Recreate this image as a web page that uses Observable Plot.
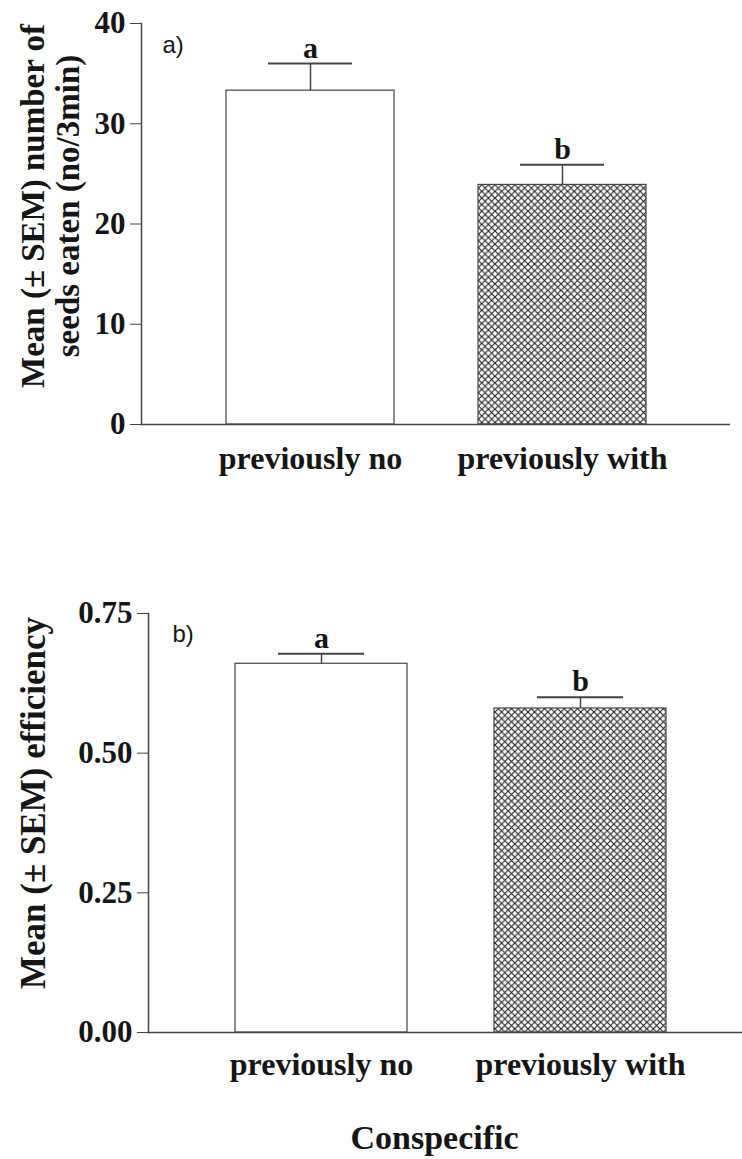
<!DOCTYPE html>
<html>
<head>
<meta charset="utf-8">
<script src="https://cdn.jsdelivr.net/npm/d3@7"></script>
<script src="https://cdn.jsdelivr.net/npm/@observablehq/plot@0.6"></script>
<style>
  html, body { margin: 0; padding: 0; background: #fff; }
  #chart { width: 742px; }
  #chart svg { display: block; }
</style>
</head>
<body>
<div id="chart"></div>
<script>
const categories = ["previously no", "previously with"];
const seedsMean = [33.3, 23.9];
const seedsSem = [2.7, 2.0];
const effMean = [0.66, 0.58];
const effSem = [0.018, 0.02];
const letters = ["a", "b"];
const seedsTicks = [0, 10, 20, 30, 40];
const effTicks = [0, 0.25, 0.5, 0.75];
const panelLabels = ["a)", "b)"];
const seedsTitle = "Mean (± SEM) number of\nseeds eaten (no/3min)";
const effTitle = "Mean (± SEM) efficiency";
const xTitle = "Conspecific";

const serif = "'Liberation Serif', 'Times New Roman', serif";
const sans = "'Liberation Sans', Arial, sans-serif";
const ink = "#151515";
const line = "#444";

function rows(means, sems) {
  return categories.map((c, i) => ({cat: c, mean: means[i], top: means[i] + sems[i], letter: letters[i], hatched: i === 1}));
}

function addHatch(svg, id) {
  const ns = "http://www.w3.org/2000/svg";
  const defs = document.createElementNS(ns, "defs");
  const pat = document.createElementNS(ns, "pattern");
  const s = 6.6;
  pat.setAttribute("id", id);
  pat.setAttribute("patternUnits", "userSpaceOnUse");
  pat.setAttribute("width", s);
  pat.setAttribute("height", s);
  const bg = document.createElementNS(ns, "rect");
  bg.setAttribute("width", s); bg.setAttribute("height", s); bg.setAttribute("fill", "#fff");
  pat.appendChild(bg);
  const p = document.createElementNS(ns, "path");
  p.setAttribute("d", `M0,0L${s},${s}M${s},0L0,${s}`);
  p.setAttribute("stroke", "#222");
  p.setAttribute("stroke-width", "1.15");
  pat.appendChild(p);
  defs.appendChild(pat);
  svg.insertBefore(defs, svg.firstChild);
}

function panel({data, ticks, fmt, title, titleSize, titleDx, titleDy, label, labelDx, labelDy,
                height, marginTop, marginBottom, marginLeft, marginRight, xRange, inset, tickPad, hatchId, extra}) {
  const xOpt = {domain: categories, padding: 0.335};
  if (xRange) xOpt.range = xRange;
  const svg = Plot.plot({
    width: 742, height, marginTop, marginBottom, marginLeft, marginRight,
    style: {fontFamily: serif, fontWeight: "bold", fontSize: "31px", color: ink, background: "#fff"},
    x: {...xOpt, label: null},
    y: {domain: [ticks[0], ticks[ticks.length - 1]], label: null},
    marks: [
      Plot.barY(data.filter(d => !d.hatched), {x: "cat", y: "mean", fill: "#fff", stroke: line, strokeWidth: 1.2}),
      Plot.barY(data.filter(d => d.hatched), {x: "cat", y: "mean", fill: `url(#${hatchId})`, stroke: line, strokeWidth: 1.2}),
      Plot.ruleX(data, {x: "cat", y1: "mean", y2: "top", stroke: line, strokeWidth: 1.5}),
      Plot.tickY(data, {x: "cat", y: "top", stroke: line, strokeWidth: 2, insetLeft: inset, insetRight: inset}),
      Plot.text(data, {x: "cat", y: "top", text: "letter", dy: -6, lineAnchor: "bottom", fontSize: 30, fill: ink}),
      Plot.ruleY([ticks[0]], {stroke: line, strokeWidth: 1.5}),
      Plot.frame({anchor: "left", stroke: line, strokeWidth: 1.5}),
      Plot.axisY({ticks, tickFormat: fmt, tickSize: 11, tickPadding: 5, stroke: line, fill: ink, label: null}),
      Plot.axisX({tickSize: 0, tickPadding: tickPad, fontSize: 32, fill: ink, label: null}),
      Plot.text([title], {frameAnchor: "left", text: d => d, rotate: -90, dx: titleDx, dy: titleDy,
        textAnchor: "middle", lineAnchor: "middle", lineHeight: 1.06, fontSize: titleSize, fill: ink}),
      Plot.text([label], {frameAnchor: "top-left", text: d => d, dx: labelDx, dy: labelDy, textAnchor: "start",
        lineAnchor: "middle", fontFamily: sans, fontWeight: "normal", fontSize: 24, fill: ink}),
      ...(extra || [])
    ]
  });
  addHatch(svg, hatchId);
  return svg;
}

const chart = document.getElementById("chart");

chart.appendChild(panel({
  data: rows(seedsMean, seedsSem), ticks: seedsTicks, fmt: d3.format("d"),
  title: seedsTitle, titleSize: 33, titleDx: -91, titleDy: -18,
  label: panelLabels[0], labelDx: 21, labelDy: 22,
  height: 580, marginTop: 23, marginBottom: 156, marginLeft: 141, marginRight: 12,
  inset: 42, tickPad: 22, hatchId: "hatchA"
}));

chart.appendChild(panel({
  data: rows(effMean, effSem), ticks: effTicks, fmt: d3.format(".2f"),
  title: effTitle, titleSize: 35, titleDx: -115, titleDy: -20,
  label: panelLabels[1], labelDx: 24, labelDy: 21,
  height: 579, marginTop: 33, marginBottom: 127, marginLeft: 148, marginRight: 0,
  xRange: [148, 754], inset: 43, tickPad: 20, hatchId: "hatchB",
  extra: [Plot.text([xTitle], {frameAnchor: "bottom", text: d => d, dx: -11, dy: 116, lineAnchor: "bottom", fontSize: 34, fill: ink})]
}));
</script>
</body>
</html>
